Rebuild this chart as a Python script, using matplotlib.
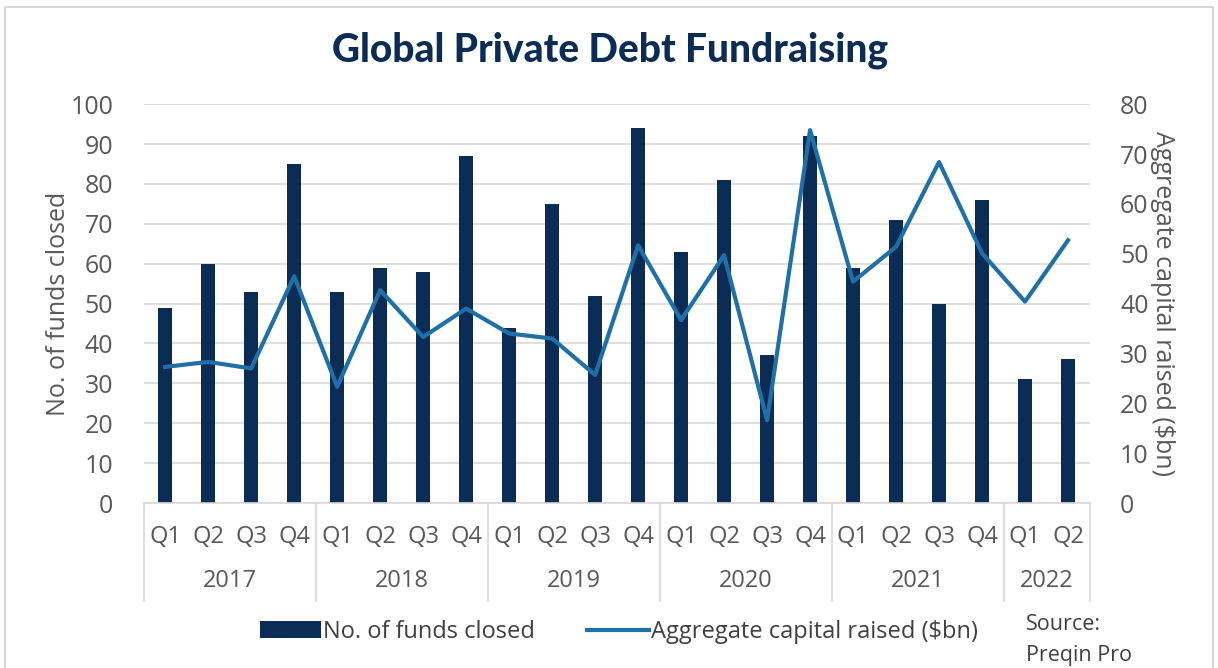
import matplotlib
matplotlib.use("Agg")
import matplotlib.pyplot as plt
from matplotlib.patches import Patch, Rectangle
from matplotlib.lines import Line2D
import numpy as np

plt.rcParams["font.family"] = ["Open Sans", "DejaVu Sans"]

#chart data
quarters = ["Q1", "Q2", "Q3", "Q4"] * 5 + ["Q1", "Q2"]
years = ["2017", "2018", "2019", "2020", "2021", "2022"]
year_sizes = [4, 4, 4, 4, 4, 2]
funds_closed = [49, 60, 53, 85, 53, 59, 58, 87, 44, 75, 52, 94,
                63, 81, 37, 92, 59, 71, 50, 76, 31, 36]
capital_raised = [27.3, 28.3, 27.0, 45.5, 23.3, 42.7, 33.3, 39.0, 34.0, 33.0, 25.7, 51.7,
                  36.7, 49.7, 16.6, 74.8, 44.4, 51.4, 68.4, 50.1, 40.4, 52.7]

bar_color = "#0b2d55"
line_color = "#1f6fa8"
text_color = "#595959"
grid_color = "#d9d9d9"

fig = plt.figure(figsize=(12.18, 6.68), dpi=100)
ax = fig.add_axes([0.118, 0.247, 0.7765, 0.597])
ax2 = ax.twinx()

x = np.arange(len(funds_closed))
ax.bar(x, funds_closed, width=0.33, color=bar_color, zorder=2)
ax2.plot(x, capital_raised, color=line_color, linewidth=3, zorder=3)

ax.set_xlim(-0.5, len(x) - 0.5)
ax.set_ylim(0, 100)
ax2.set_ylim(0, 80)
ax.set_yticks(range(0, 101, 10))
ax2.set_yticks(range(0, 81, 10))
ax.grid(axis="y", color=grid_color, linewidth=1.2, zorder=0)
ax.set_axisbelow(True)

for a in (ax, ax2):
   for s in a.spines.values():
      s.set_visible(False)
ax.spines["bottom"].set_visible(True)
ax.spines["bottom"].set_color(grid_color)
ax.spines["bottom"].set_linewidth(1.2)

ax.tick_params(axis="y", length=0, pad=22, labelsize=18, labelcolor=text_color)
ax2.tick_params(axis="y", length=0, pad=22, labelsize=18, labelcolor=text_color)

ax.set_xticks(x)
ax.set_xticklabels(quarters)
ax.tick_params(axis="x", length=0, pad=16, labelsize=17, labelcolor=text_color)

#year labels and separators under the category axis
trans = ax.get_xaxis_transform()
start = 0
bounds = [-0.5]
for yr, n in zip(years, year_sizes):
   ax.text(start + (n - 1) / 2, -0.195, yr, transform=trans, ha="center", va="center",
           fontsize=17, color=text_color)
   start += n
   bounds.append(start - 0.5)
for b in bounds:
   ax.add_line(Line2D([b, b], [0, -0.245], transform=trans, color=grid_color,
                      linewidth=1.2, clip_on=False))

ax.set_ylabel("No. of funds closed", fontsize=18, color=text_color)
ax2.set_ylabel("Aggregate capital raised ($bn)", fontsize=18, color=text_color,
               rotation=-90)
ax2.yaxis.set_label_coords(1.09, 0.5)
ax.yaxis.set_label_coords(-0.077, 0.5)

fig.text(0.501, 0.925, "Global Private Debt Fundraising", ha="center", va="center",
         fontsize=28, fontweight="black", color="#0b2d55", family=["Lato", "DejaVu Sans"])

handles = [Patch(facecolor=bar_color, label="No. of funds closed"),
           Line2D([0], [0], color=line_color, linewidth=3, label="Aggregate capital raised ($bn)")]
fig.legend(handles=handles, loc="center", bbox_to_anchor=(0.508, 1 - 632 / 668), ncol=2,
           frameon=False, fontsize=17, handlelength=2.6, handletextpad=0.1,
           columnspacing=2.2, labelcolor="#404040")

fig.text(0.842, 1 - 625 / 668, "Source:", fontsize=15.5, color="#404040", va="center")
fig.text(0.842, 1 - 655 / 668, "Preqin Pro", fontsize=15.5, color="#404040", va="center")

#outer border
fig.patches.append(Rectangle((0.004, -0.01), 0.992, 1.0, transform=fig.transFigure,
                             fill=False, edgecolor="#d0d0d0", linewidth=1.2))

fig.savefig("out.png", dpi=100)
